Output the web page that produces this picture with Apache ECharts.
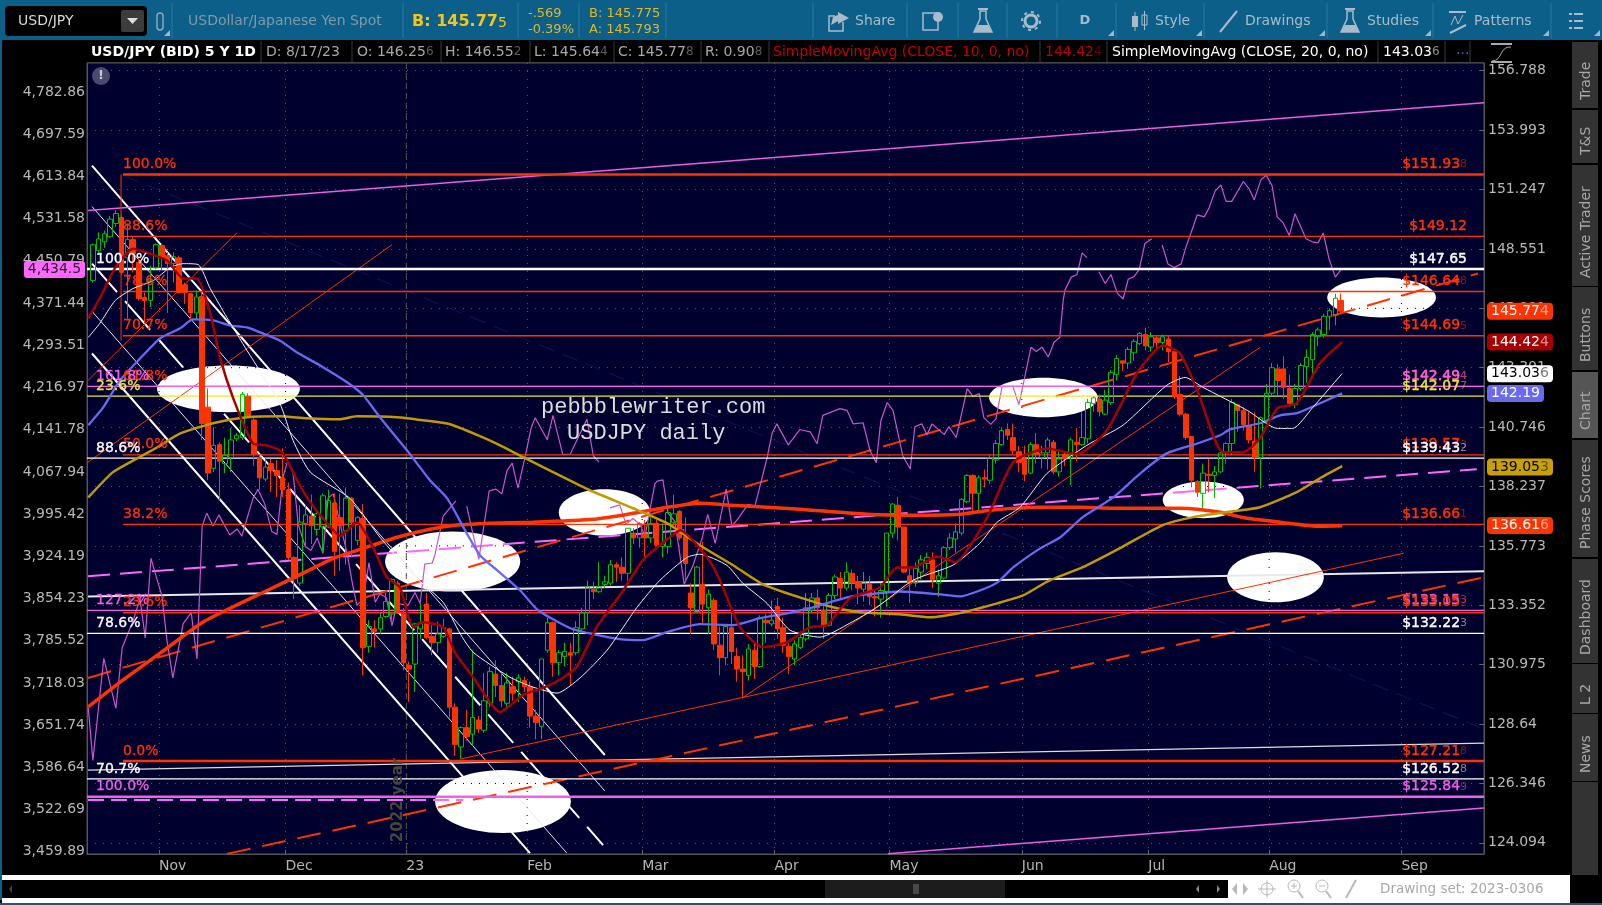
<!DOCTYPE html>
<html lang="en">

<head>
    <meta charset="UTF-8" />
    <title>USD/JPY daily</title>
    <script src="https://cdn.jsdelivr.net/npm/echarts@6/dist/echarts.min.js"></script>
    <style>
        html, body { margin: 0; padding: 0; background: #000; overflow: hidden; }
    </style>
</head>

<body>
    <div id="main" style="width: 1602px; height: 905px"></div>
    <script type="text/javascript">
        // ---------- axes ----------
        const monthTicks = [0, 22, 43, 64, 84, 107, 127, 150, 172, 193, 216];
        const monthLabels = ["Nov", "Dec", "23", "Feb", "Mar", "Apr", "May", "Jun", "Jul", "Aug", "Sep"];
        const priceTicks = [156.788, 153.993, 151.247, 148.551, 145.901, 143.301, 140.746, 138.237, 135.773, 133.352, 130.975, 128.64, 126.346, 124.094];
        const spxTicks = [4782.86, 4697.59, 4613.84, 4531.58, 4450.79, 4371.44, 4293.51, 4216.97, 4141.78, 4067.94, 3995.42, 3924.19, 3854.23, 3785.52, 3718.03, 3651.74, 3586.64, 3522.69, 3459.89];

        // ---------- daily bars, open, close, low, high ----------
        const firstBar = -12;
        const candles = [
            [147.14, 148.74, 147.05, 148.8], [148.47, 149.0, 148.3, 149.3], [148.87, 149.23, 148.6, 149.37], [149.1, 149.9, 149.05, 150.05],
            [149.7, 150.15, 149.55, 150.3], [149.97, 147.5, 147.4, 150.1], [148.15, 148.97, 145.45, 149.7], [148.97, 148.33, 147.5, 149.07],
            [147.95, 146.33, 146.25, 148.15], [146.38, 146.25, 145.25, 146.6], [146.25, 147.12, 145.95, 147.8], [147.7, 148.74, 147.65, 148.8],
            [148.7, 148.15, 147.6, 148.8], [148.25, 147.9, 145.7, 148.4], [147.9, 148.2, 147.05, 148.4], [148.15, 146.6, 146.55, 148.25],
            [146.95, 146.6, 146.1, 147.05], [146.55, 145.7, 145.3, 146.6], [145.7, 146.4, 145.4, 146.7], [146.42, 140.9, 140.2, 146.65],
            [141.6, 138.8, 138.5, 142.4], [139.0, 139.97, 138.85, 140.75], [140.0, 139.3, 137.66, 140.1], [139.2, 139.55, 138.8, 140.3],
            [139.45, 140.2, 138.85, 140.7], [140.25, 140.4, 140.15, 140.5], [140.3, 142.15, 140.2, 142.25], [142.07, 141.2, 141.15, 142.2],
            [141.05, 139.6, 139.1, 141.15], [139.45, 138.6, 138.1, 139.55], [138.55, 139.05, 138.45, 139.45], [139.2, 138.9, 138.0, 139.4],
            [138.9, 138.7, 137.8, 139.35], [138.6, 138.1, 137.8, 139.85], [138.1, 135.3, 135.2, 138.4], [135.3, 134.45, 133.6, 135.35],
            [134.25, 136.75, 134.15, 137.45], [136.7, 137.05, 135.7, 137.45], [137.0, 136.6, 135.85, 137.9], [136.45, 137.1, 136.2, 137.25],
            [136.55, 137.85, 135.5, 137.95], [136.55, 137.65, 136.5, 138.1], [137.55, 135.55, 134.55, 137.95], [136.95, 136.6, 134.75, 137.95],
            [136.4, 137.75, 135.0, 138.2], [137.75, 136.75, 135.3, 137.8], [136.0, 136.95, 135.8, 137.0], [136.9, 131.65, 130.55, 137.5],
            [131.7, 132.5, 131.45, 132.75], [132.4, 132.3, 131.65, 132.75], [132.4, 132.85, 132.2, 133.05], [132.9, 133.5, 132.85, 133.85],
            [133.0, 134.4, 132.55, 134.45], [134.25, 133.05, 133.0, 134.35], [133.0, 131.05, 130.75, 133.25], [130.95, 130.8, 129.5, 131.1],
            [131.0, 132.6, 129.9, 132.65], [132.4, 132.65, 132.0, 133.45], [133.4, 132.05, 132.0, 133.85], [132.1, 131.85, 131.35, 132.55],
            [131.85, 132.2, 131.45, 132.7], [132.1, 132.45, 132.05, 132.8], [132.4, 129.3, 128.9, 132.45], [129.3, 127.85, 127.4, 129.45],
            [127.75, 128.5, 127.3, 128.55], [128.5, 128.15, 128.0, 129.2], [128.25, 128.9, 127.8, 131.55], [128.8, 128.45, 128.3, 128.95],
            [128.4, 129.55, 128.3, 130.65], [129.45, 130.7, 129.3, 130.9], [130.6, 130.15, 129.7, 131.15], [130.15, 129.55, 129.3, 130.7],
            [129.45, 130.25, 129.3, 130.65], [130.1, 129.85, 129.55, 130.5], [130.3, 130.45, 129.5, 130.6], [130.35, 130.1, 129.9, 130.5],
            [130.1, 128.95, 128.5, 130.3], [128.95, 128.7, 128.05, 129.2], [128.55, 131.2, 128.05, 131.2], [131.55, 132.65, 131.45, 132.85],
            [132.65, 131.05, 130.5, 132.7], [131.05, 131.45, 130.55, 131.55], [131.3, 131.5, 130.9, 131.85], [131.45, 131.35, 130.15, 131.85],
            [131.45, 132.45, 131.35, 132.7], [132.4, 133.05, 132.3, 133.25], [133.05, 134.1, 132.55, 134.35], [134.0, 133.9, 133.6, 134.3],
            [133.9, 134.1, 133.85, 135.1], [134.2, 134.3, 134.05, 134.55], [134.25, 135.0, 134.15, 135.2], [135.0, 134.9, 134.3, 135.1],
            [134.9, 134.65, 134.35, 135.3], [134.65, 136.5, 134.35, 136.5], [136.3, 136.1, 135.85, 136.5], [136.1, 136.7, 135.7, 136.75],
            [136.25, 136.1, 135.3, 136.85], [136.1, 136.7, 135.9, 136.95], [136.7, 135.8, 135.75, 136.85], [135.75, 135.85, 135.3, 136.7],
            [135.75, 137.15, 135.45, 137.2], [136.75, 137.1, 136.6, 137.9], [137.2, 136.1, 136.0, 137.25], [136.15, 135.05, 134.25, 136.95],
            [133.85, 133.25, 132.2, 134.25], [133.1, 134.9, 133.05, 134.95], [134.2, 133.4, 132.6, 135.95], [133.25, 133.8, 132.2, 134.0],
            [133.55, 131.8, 131.55, 133.65], [131.75, 131.25, 130.55, 132.5], [131.25, 132.5, 130.95, 132.6], [132.45, 131.5, 131.0, 133.05],
            [131.3, 130.8, 130.3, 131.65], [130.8, 130.7, 129.65, 131.35], [130.55, 131.6, 130.35, 131.8], [131.55, 130.9, 130.4, 131.85],
            [130.9, 132.85, 130.85, 132.95], [132.75, 132.65, 131.85, 133.0], [132.6, 132.75, 132.5, 133.55], [133.3, 132.4, 132.0, 133.65],
            [132.45, 131.75, 131.45, 132.85], [131.7, 131.3, 130.6, 131.85], [131.2, 131.8, 130.95, 131.95], [131.65, 132.05, 131.6, 132.3],
            [132.0, 133.25, 131.9, 133.85], [133.15, 133.65, 133.05, 133.85], [133.65, 133.25, 132.75, 134.0], [133.15, 132.5, 132.0, 133.35],
            [132.55, 133.75, 132.5, 133.85], [133.75, 134.5, 133.6, 134.6], [134.45, 134.05, 133.6, 134.7], [134.05, 134.7, 133.95, 135.1],
            [134.65, 134.25, 133.95, 134.8], [134.3, 134.05, 133.4, 134.55], [134.0, 134.3, 133.5, 134.7], [134.2, 133.7, 133.35, 134.55],
            [133.7, 133.65, 132.9, 133.95], [133.6, 133.95, 132.85, 134.25], [133.9, 136.3, 133.3, 136.3], [136.3, 137.5, 136.1, 137.55],
            [137.45, 136.55, 136.0, 137.8], [136.55, 134.7, 134.65, 136.55], [134.55, 134.25, 133.45, 134.9], [134.25, 134.85, 134.1, 135.1],
            [134.7, 135.2, 134.4, 135.4], [135.05, 135.3, 134.8, 135.5], [135.2, 134.4, 134.05, 135.5], [134.25, 134.55, 133.7, 134.8],
            [134.45, 135.7, 134.4, 135.75], [135.7, 136.1, 135.6, 136.3], [136.05, 136.35, 135.5, 136.7], [136.3, 137.7, 136.2, 137.75],
            [137.6, 138.7, 137.55, 138.75], [138.7, 137.95, 137.2, 138.75], [137.95, 138.6, 137.15, 138.7], [138.6, 138.55, 138.2, 138.95],
            [138.5, 139.45, 138.35, 139.55], [139.35, 140.05, 139.2, 140.2], [140.0, 140.6, 139.95, 140.75], [140.65, 140.4, 140.2, 140.9],
            [140.3, 139.75, 139.6, 140.9], [139.7, 139.25, 138.85, 139.95], [139.4, 138.75, 138.45, 139.95], [138.8, 140.0, 138.75, 140.1],
            [140.0, 139.6, 139.2, 140.5], [139.45, 139.65, 139.0, 139.95], [139.65, 140.2, 138.95, 140.3], [140.1, 138.85, 138.75, 140.2],
            [138.85, 139.4, 138.65, 139.75], [139.6, 139.4, 139.1, 139.7], [139.45, 140.2, 138.3, 140.3], [140.1, 140.0, 139.3, 140.7],
            [140.0, 140.3, 139.95, 141.4], [140.25, 141.8, 140.05, 141.95], [141.75, 142.0, 141.4, 142.05], [141.95, 141.4, 141.2, 142.15],
            [141.3, 141.9, 141.25, 142.35], [141.8, 143.1, 141.7, 143.2], [143.0, 143.7, 142.75, 143.85], [143.6, 143.5, 143.15, 143.6],
            [143.5, 144.1, 143.25, 144.2], [143.95, 144.45, 143.6, 144.55], [144.35, 144.8, 144.3, 144.85], [144.75, 144.25, 144.05, 145.05],
            [144.2, 144.65, 144.0, 144.85], [144.6, 144.4, 144.05, 144.7], [144.4, 144.65, 144.05, 144.75], [144.55, 144.0, 143.55, 144.7],
            [144.0, 142.05, 141.95, 144.05], [142.15, 141.3, 141.2, 142.95], [141.3, 140.3, 140.2, 141.35], [140.35, 138.5, 138.2, 140.35],
            [138.45, 138.0, 137.8, 138.5], [137.95, 138.8, 137.25, 139.2], [138.75, 138.7, 138.0, 139.4], [138.7, 138.85, 137.75, 139.1],
            [138.85, 139.65, 138.8, 139.75], [139.65, 140.05, 139.2, 140.1], [140.05, 141.8, 139.55, 141.95], [141.7, 141.45, 140.55, 141.75],
            [141.45, 140.85, 140.6, 141.6], [140.8, 140.2, 140.05, 141.4], [140.15, 139.45, 138.85, 141.4], [139.45, 141.15, 138.15, 141.2],
            [141.0, 142.2, 140.9, 142.6], [142.2, 143.3, 142.1, 143.5], [143.25, 142.75, 142.1, 143.45], [143.25, 142.45, 141.95, 143.8],
            [142.4, 141.75, 141.6, 143.0], [141.7, 142.4, 141.55, 142.6], [142.4, 143.4, 142.3, 143.5], [143.35, 143.75, 142.65, 144.1],
            [143.65, 144.75, 142.85, 144.85], [144.65, 144.95, 144.25, 145.05], [144.75, 145.55, 144.6, 145.65], [145.55, 145.8, 144.95, 145.9],
            [145.6, 146.35, 145.15, 146.55], [146.256, 145.778, 145.644, 146.552],
        ];

        // ---------- moving averages, [bar, price] read at the bends ----------
        const sma10 = [[-12.3, 145.46], [-10.3, 146.34], [-7.6, 147.71], [-4.5, 148.56], [-2.1, 148.38], [1.4, 148.03], [4.2, 147.23], [6.6, 147.23], [8.9, 145.68], [10.6, 143.75], [12.9, 141.98], [16.3, 140.06], [18.8, 139.97], [21.4, 139.68], [24, 138.5], [25.7, 137.78], [28.5, 136.91], [31.5, 136.2], [34.4, 136.75], [37.2, 135.71], [39.6, 134.49], [41.9, 134.07], [44.2, 132.47], [45.9, 132.67], [49.4, 132.47], [51.5, 131.43], [54.6, 130.48], [59.3, 129.11], [63.3, 129.78], [67.5, 130.13], [70.2, 130.45], [72.7, 130.92], [76.1, 132.47], [80.7, 133.95], [84.1, 135.18], [88.8, 136.13], [90.6, 136.42], [95.3, 135.3], [97.5, 134.37], [101, 132.47], [105, 131.67], [109.2, 131.87], [113.2, 132.47], [116.1, 132.55], [120.1, 133.63], [125.3, 134.07], [128.3, 134.89], [131.1, 134.89], [135.3, 135.34], [138.4, 135.1], [144, 136.96], [148.5, 139.26], [154.4, 139.84], [159.6, 139.6], [164.8, 140.61], [170, 143.06], [174.5, 144.27], [177.5, 143.92], [180.5, 142.32], [185, 139.68], [188.5, 139.68], [191.4, 140.27], [194.4, 141.55], [197.8, 141.77], [201.8, 143.49], [205.7, 144.42]];
        const sma20 = [[-12.3, 144.62], [-10.3, 145.24], [-7.6, 146.25], [-4.5, 146.78], [-1, 147.13], [1.9, 147.71], [4.2, 147.89], [6.8, 147.85], [8.9, 146.78], [11.8, 145.5], [15.3, 144.05], [21, 141.76], [23.3, 140.18], [26.3, 138.84], [33.2, 137.74], [38.4, 136.13], [44.2, 134.57], [49.4, 133.47], [52.3, 132.23], [54.6, 131.47], [61, 130.48], [65, 130.09], [69.2, 129.85], [73.2, 130.45], [77.9, 131.55], [83.1, 133.27], [87.1, 134.37], [91.8, 135.3], [94, 135.43], [98.7, 134.98], [101.5, 134.24], [105.7, 133.43], [109.7, 132.35], [114.9, 132.07], [120.1, 132.63], [124.8, 133.27], [131.1, 134.37], [138, 134.98], [142.7, 135.88], [145.7, 136.75], [149.7, 137.37], [154.4, 138.79], [161.3, 139.97], [167.6, 140.83], [175.2, 142.54], [178.4, 142.88], [181.5, 142.45], [189.2, 141.46], [194.4, 140.69], [197.1, 140.69], [200.6, 141.59], [205.7, 143.05]];
        const sma50 = [[-12.3, 140.83], [-9.7, 141.59], [-6.8, 142.75], [-3.3, 143.7], [0.2, 144.58], [3.7, 145.02], [5.9, 145.41], [9.4, 145.37], [12.3, 145.15], [15.3, 145.06], [17.6, 144.84], [21, 144.49], [24, 143.96], [28, 143.4], [32.7, 142.67], [35.5, 142.11], [38.4, 141.17], [43.1, 139.76], [47.1, 138.5], [50.1, 137.74], [53.5, 136.29], [55.8, 135.39], [58.8, 134.77], [62.8, 133.95], [65.9, 133.15], [71.5, 132.43], [75.5, 132.19], [80.1, 131.99], [84.1, 131.95], [88.3, 132.27], [94, 132.59], [99.8, 132.55], [104.5, 132.83], [109.2, 133.03], [113.7, 133.27], [119.6, 133.67], [123.1, 133.79], [128.8, 133.91], [135.8, 133.79], [139.3, 133.71], [142.7, 133.95], [145.7, 134.27], [148.5, 134.89], [153.2, 135.67], [156.7, 136.13], [160.6, 136.96], [165.9, 137.78], [170.6, 138.79], [175.2, 139.63], [180.5, 140.05], [184.5, 140.4], [186.2, 140.65], [191.4, 140.91], [194.9, 141.25], [197.8, 141.34], [200.6, 141.63], [205.7, 142.19]];
        const sma100 = [[-12.3, 137.78], [-8, 138.84], [-3.8, 139.42], [-0.3, 139.89], [3.7, 140.48], [9.4, 140.91], [15.3, 141.17], [21, 141.21], [25.7, 141.12], [31.4, 141.08], [34.4, 141.21], [41.4, 141.17], [45.9, 141.04], [50.6, 140.87], [55.8, 140.36], [59.3, 139.97], [63.3, 139.47], [68.5, 138.84], [74.9, 138.08], [82.4, 137.33], [88.3, 136.71], [94, 135.8], [99.8, 134.98], [105, 134.2], [111.4, 133.67], [117.2, 133.27], [121.9, 133.07], [128.8, 132.99], [134, 132.87], [139.8, 133.07], [145.7, 133.43], [150.2, 133.75], [154.9, 134.37], [160.6, 134.9], [167, 135.67], [174.5, 136.63], [179.8, 136.96], [186.7, 137.2], [191.4, 137.37], [197.8, 138.0], [201.8, 138.58], [205.7, 139.09]];
        const sma200 = [[-12.3, 129.31], [-6.3, 130.36], [0.2, 131.43], [7.6, 132.67], [14.1, 133.43], [23.3, 134.45], [30.3, 135.26], [35.5, 135.67], [41.4, 136.13], [47.1, 136.46], [51.8, 136.63], [57.5, 136.71], [65, 136.75], [75.5, 136.87], [82.4, 137.12], [88.3, 137.37], [94, 137.54], [99.8, 137.45], [105.7, 137.37], [111.4, 137.29], [123.1, 137.08], [131.1, 137.04], [139.3, 137.08], [144.5, 137.25], [153.2, 137.37], [160.1, 137.37], [165.9, 137.33], [177.5, 137.33], [180.5, 137.29], [184.5, 137.16], [189.2, 136.91], [194.9, 136.75], [201.8, 136.58], [205.7, 136.6]];

        // ---------- index overlay on the left axis, null = break in the line ----------
        const spxLine = [[-12.3, 3679], [-11.5, 3597], [-9.6, 3757], [-7.5, 3678], [-6.4, 3774], [-4.5, 3818], [-3.3, 3854], [-2.4, 3790], [-1.4, 3921], [-0.3, 3884], [0.5, 3859], [1.4, 3785], [2.4, 3726], [4.2, 3813], [5.6, 3831], [6.6, 3756], [7.5, 3975], [8.3, 3997], [9.4, 3975], [10.4, 3994], [12.3, 3960], [13.6, 3970], [14.4, 3958], [16.3, 4021], [17.2, 4038], [18.4, 4012], [19.6, 3966], [20.5, 3961], [21.6, 4061], [22.4, 4087], [23.3, 4066], [24.2, 3978], [25.4, 3941], [26.4, 3934], [27.5, 3955], [28.5, 3929], [29.4, 4023], [30.3, 4030], [31.5, 3978], [32.7, 3929], [33.6, 3880], [34.4, 3843], [35.5, 3854], [36.5, 3913], [37.6, 3848], [38.4, 3862], [39.5, 3856], [40.5, 3810], [41.4, 3846], [43.3, 3843], [44.5, 3864], [45.4, 3846], [46.2, 3911], [47.5, 3913], [48, 3928], [49.4, 3992], [51.6, 4018], [52.5, null],
            [53.5, 4009], [54.6, 3961], [55.6, 3919], [57.4, 4035], [58.6, 4038], [59.6, 4030], [60.5, 4070], [61.4, 4083], [62.4, 4040], [63.6, 4092], [64.7, 4145], [65.4, 4163], [67.5, 4124], [68.5, 4167], [70.2, 4098], [71.5, 4099], [74.4, 4160], [75.5, 4096], [76.5, 4085], [77.5, null],
            [78.4, 4006], [80.1, 4011], [81.2, 3978], [82.4, 3988], [83.6, 3978], [84.5, 3958], [86.2, 4047], [86.6, 4052], [87.6, 4054], [88.5, 3997], [89.7, 3983], [91.3, 3878], [92.8, 3908], [94.4, 3954], [95.4, 3995], [96.7, 3946], [98.6, 4038], [99.6, 3975], [100.7, 3988], [102.4, 4012], [103.6, 4009], [105.7, 4092], [106.6, 4136], [107.4, 4152], [109.4, 4115], [111.4, 4142], [113.2, 4138], [114.4, 4117], [115.4, 4167], [118.4, 4179], [119.6, 4176], [120.7, 4152], [122.4, 4154], [123.6, 4105], [124.7, 4084], [125.5, 4158], [126.6, 4190], [127.6, 4176], [129.3, 4096], [130.6, 4073], [131.4, 4147], [132.6, 4152], [133.5, 4133], [134.4, 4152], [136.5, 4133], [137.3, 4147], [138.6, 4128], [140.5, 4215], [141.5, 4201], [142.6, 4206], [143.4, 4163], [144.6, 4151], [145.5, 4161], [146.6, 4220], [147.5, null],
            [148.5, 4217], [149.5, 4186], [151.6, 4290], [152.5, 4282], [153.5, 4290], [154.6, 4272], [155.6, 4299], [156.6, 4308], [157.2, 4377], [157.5, 4396], [158.6, 4420], [159.6, 4425], [160.5, 4466], [161.3, 4457], [162.4, null],
            [163.4, 4430], [164.5, 4408], [165.5, 4425], [166.6, 4390], [167.6, 4379], [168.5, 4416], [169.5, 4421], [170.4, 4434], [171.4, 4484], [172.6, 4493], [173.5, null],
            [174.4, 4481], [175.4, 4445], [176.5, 4438], [177.7, 4445], [178.5, 4476], [179.4, 4504], [180.5, 4539], [181.7, 4535], [182.5, 4551], [183.6, 4585], [184.6, 4597], [185.5, 4565], [186.5, 4565], [188.5, 4604], [189.5, 4590], [190.4, 4568], [191.6, 4608], [192.5, 4616], [193.5, 4596], [194.4, 4535], [195.4, 4524], [196.5, 4499], [197.5, 4541], [199.4, 4493], [200.5, 4487], [201.5, 4485], [202.4, 4504], [203.4, 4455], [204.5, 4420], [205.5, 4434.5]];

        // ---------- horizontal levels ----------
        const levelPrices = [151.938, 149.12, 147.65, 146.648, 144.695, 142.494, 142.49, 142.07, 139.57, 139.43, 136.661, 133.15, 133.05, 132.22, 127.21, 126.52, 125.84];
        const levelPercent = ["100.0%", "88.6%", "100.0%", "78.6%", "70.7%", "61.8%", "161.8%", "23.6%", "50.0%", "88.6%", "38.2%", "127.2%", "23.6%", "78.6%", "0.0%", "70.7%", "100.0%"];
        const levelDollar = ["$151.93", "$149.12", "$147.65", "$146.64", "$144.69", "$142.49", "$142.49", "$142.07", "$139.57", "$139.43", "$136.66", "$133.15", "$133.05", "$132.22", "$127.21", "$126.52", "$125.84"];
        const levelLastDigit = ["8", "", "", "8", "5", "4", "4", "7", "3", "2", "1", "3", "2", "3", "8", "8", "9"];
        const levelKind = ["orangeWide", "orange", "whiteWide", "orange", "orange", "orange", "pink", "yellow", "orange", "white", "orange", "pink", "orange", "white", "orangeWide", "white", "pinkWide"];

        // ---------- trend lines, bar and price at each end ----------
        const trendEnds = {
            channelTop: [-11.65, 152.35, 77.5, 127.44],
            channelThinUpper: [-11.65, 150.47, 77.5, 126.06],
            channelDashed: [-11.65, 147.89, 77.2, 124.01],
            channelThinLower: [-11.65, 145.77, 70.9, 123.71],
            channelBottom: [-11.65, 143.92, 64.5, 123.71],
            flatWhite: [-12.34, 133.71, 230.35, 134.73],
            flatWhiteLow: [-12.34, 126.86, 230.35, 127.9],
            pinkTop: [-12.34, 150.29, 230.35, 155.28],
            pinkMiddle: [-12.34, 134.53, 229.1, 138.96],
            pinkBottom: [126.7, 123.68, 230.35, 125.41],
            pinkFlat: [-12.34, 125.71, 52.9, 125.71],
            orangeDashedUpper: [-12.34, 130.45, 229.3, 147.45],
            orangeDashedLower: [11.8, 123.68, 230.35, 134.49],
            orangeLong: [52.3, 127.28, 216.4, 135.47],
            orangeRise: [101.4, 129.66, 191.4, 144.18],
            orangeLeftShort: [-12.34, 142.75, 13.6, 149.29],
            orangeLeftLong: [-12.34, 139.26, 40.5, 148.74],
            orangeStem: [-6.6, 151.94, -6.6, 144.49],
            navyDown: [-6.3, 151.9, 230.35, 128.44],
            yearLine: [43, 157.156, 43, 123.675],
        };

        // ---------- white ellipses, bar and price of the box around each ----------
        const ovalBoxes = [
            [-0.35, 24.5, 143.4, 141.38], [39.3, 62.8, 136.37, 133.91], [48, 71.6, 126.86, 124.46], [69.5, 85.4, 138.12, 136.2],
            [144.3, 163.2, 142.87, 141.17], [174.5, 188.6, 138.45, 136.91], [185.7, 202.5, 135.51, 133.47], [203.1, 222, 147.27, 145.5],
        ];

        // ---------- price tags on the right edge ----------
        const tagPrices = [145.774, 144.424, 143.036, 142.19, 139.053, 136.616];
        const tagTexts = ["145.77", "144.42", "143.03", "142.19", "139.05", "136.61"];
        const tagDigits = ["4", "4", "6", "", "3", "6"];
        const spxLast = 4434.5;

        const orange = "#ff3300";
        const pink = "#ff66ff";
        const labelFont = "DejaVu Sans";
        const xMin = -12.52, xMax = 230.35;
        const priceMin = 123.675, priceMax = 157.156;
        const spxMin = 3456.5, spxMax = 4842.4;
        const labelBar = 227.4;

        const kindStyle = {
            orange: { color: orange, width: 1.3, from: -6.26 },
            orangeWide: { color: orange, width: 2.5, from: -6.26 },
            white: { color: "#ffffff", width: 1.3, from: xMin },
            whiteWide: { color: "#ffffff", width: 2.5, from: xMin },
            pink: { color: "#f060e8", width: 1.2, from: xMin },
            pinkWide: { color: "#f060e8", width: 2.5, from: xMin },
            yellow: { color: "#e8e830", width: 1.2, from: xMin },
        };
        const trendStyle = {
            channelTop: ["#ffffff", 2, "solid"], channelThinUpper: ["#e8e8e8", 1, "solid"], channelDashed: ["#ffffff", 2, [38, 12]],
            channelThinLower: ["#e8e8e8", 1, "solid"], channelBottom: ["#ffffff", 2, "solid"], flatWhite: ["#e8e8e8", 2, "solid"],
            flatWhiteLow: ["#dddddd", 1.2, "solid"], pinkTop: ["#e860e0", 1.5, "solid"], pinkMiddle: [pink, 2, [22, 10]],
            pinkBottom: ["#e860e0", 1.5, "solid"], pinkFlat: [pink, 2, [16, 7]], orangeDashedUpper: [orange, 2, [24, 12]],
            orangeDashedLower: [orange, 2, [24, 12]], orangeLong: [orange, 1, "solid"], orangeRise: [orange, 1, "solid"],
            orangeLeftShort: [orange, 1, "solid"], orangeLeftLong: [orange, 1, "solid"], orangeStem: [orange, 1, "solid"],
            navyDown: ["#0f0f55", 1.2, [16, 9]], yearLine: ["#55554a", 1, [6, 4]],
        };

        function lineSeries(name, points, color, width, extra) {
            return Object.assign({
                name: name, type: "line", data: points, symbol: "none", silent: true, z: 3,
                connectNulls: false, lineStyle: { color: color, width: width },
            }, extra || {});
        }

        let series = [];

        // ovals go first, the marks lie on top of them
        series.push({
            type: "custom", silent: true, z: 1, data: ovalBoxes, encode: { x: [0, 1], y: [2, 3] },
            renderItem: function (params, api) {
                let a = api.coord([api.value(0), api.value(2)]);
                let b = api.coord([api.value(1), api.value(3)]);
                let shape = { cx: (a[0] + b[0]) / 2, cy: (a[1] + b[1]) / 2, rx: (b[0] - a[0]) / 2, ry: (b[1] - a[1]) / 2 };
                // the grid dots show black across the white
                let dots = [];
                monthTicks.forEach(function (t) {
                    let p = api.coord([t, priceMax]), q = api.coord([t, priceMin]);
                    dots.push({ type: "line", shape: { x1: p[0], y1: p[1], x2: q[0], y2: q[1] }, style: { stroke: "#000", lineWidth: 1, lineDash: [1, 7] } });
                });
                priceTicks.forEach(function (t) {
                    let p = api.coord([xMin, t]), q = api.coord([xMax, t]);
                    dots.push({ type: "line", shape: { x1: p[0], y1: p[1], x2: q[0], y2: q[1] }, style: { stroke: "#000", lineWidth: 1, lineDash: [1, 7] } });
                });
                return {
                    type: "group", children: [
                        { type: "ellipse", shape: shape, style: { fill: "#ffffff" } },
                        { type: "group", clipPath: { type: "ellipse", shape: shape }, children: dots },
                    ],
                };
            },
        });

        Object.keys(trendEnds).forEach(function (name) {
            let e = trendEnds[name], s = trendStyle[name];
            series.push(lineSeries(name, [[e[0], e[1]], [e[2], e[3]]], s[0], s[1], {
                z: name === "yearLine" || name === "navyDown" ? 2 : 3,
                lineStyle: { color: s[0], width: s[1], type: s[2] },
            }));
        });

        levelPrices.forEach(function (p, i) {
            let st = kindStyle[levelKind[i]];
            series.push(lineSeries("level" + i, [[st.from, p], [xMax, p]], st.color, st.width, { z: 4 }));
        });

        series.push(lineSeries("SPX", spxLine, "#cc55cc", 1.2, { yAxisIndex: 1, z: 3 }));

        series.push({
            name: "USD/JPY", type: "candlestick", silent: true, z: 5, barWidth: 5,
            data: candles.map(function (c, i) { return [firstBar + i + 0.5, c[0], c[1], c[2], c[3]]; }),
            itemStyle: { color: "transparent", color0: orange, borderColor: "#00c000", borderColor0: orange, borderWidth: 1 },
        });

        series.push(lineSeries("SMA200", sma200, orange, 3.5, { z: 6, smooth: 0.2 }));
        series.push(lineSeries("SMA100", sma100, "#c09a00", 2.5, { z: 6, smooth: 0.2 }));
        series.push(lineSeries("SMA50", sma50, "#6a6af0", 2.3, { z: 6, smooth: 0.2 }));
        series.push(lineSeries("SMA20", sma20, "#f0f0f0", 1, { z: 6, smooth: 0.2 }));
        series.push(lineSeries("SMA10", sma10, "#a80000", 2.5, { z: 6, smooth: 0.2 }));

        // percent and dollar texts along the levels
        series.push({
            type: "custom", silent: true, z: 7, encode: { x: 0, y: 1 },
            data: levelPrices.map(function (p, i) { return [kindStyle[levelKind[i]].from === xMin ? -10.95 : -6.26, p]; }),
            renderItem: function (params, api) {
                let pt = api.coord([api.value(0), api.value(1)]);
                let col = kindStyle[levelKind[params.dataIndex]].color;
                return {
                    type: "text", x: pt[0], y: pt[1] - 3,
                    style: { text: levelPercent[params.dataIndex], fill: col, stroke: col, lineWidth: 0.3, font: "14px " + labelFont, align: "left", verticalAlign: "bottom" },
                };
            },
        });
        series.push({
            type: "custom", silent: true, z: 7, encode: { x: 0, y: 1 },
            data: levelPrices.map(function (p) { return [labelBar, p]; }),
            renderItem: function (params, api) {
                let i = params.dataIndex;
                let pt = api.coord([api.value(0), api.value(1)]);
                let col = kindStyle[levelKind[i]].color;
                return {
                    type: "text", x: pt[0], y: pt[1] - 3,
                    style: {
                        text: "{a|" + levelDollar[i] + "}" + (levelLastDigit[i] ? "{b|" + levelLastDigit[i] + "}" : ""),
                        align: "right", verticalAlign: "bottom",
                        rich: {
                            a: { fill: col, stroke: col, lineWidth: 0.4, font: "14px " + labelFont },
                            b: { fill: col, opacity: 0.5, font: "11px " + labelFont },
                        },
                    },
                };
            },
        });

        // rounded tags outside the right edge
        const tagFill = ["#ff3300", "#a80000", "#ffffff", "#6a6af0", "#c8a000", "#ff3300"];
        const tagInk = ["#ffffff", "#ffffff", "#000000", "#ffffff", "#000000", "#ffffff"];
        const tagWide = [66, 66, 66, 57, 66, 66];
        series.push({
            type: "custom", silent: true, z: 9, encode: { x: 0, y: 1 },
            data: tagPrices.map(function (p) { return [xMax, p]; }),
            renderItem: function (params, api) {
                let i = params.dataIndex;
                let pt = api.coord([api.value(0), api.value(1)]);
                return {
                    type: "group", children: [
                        { type: "rect", shape: { x: pt[0] + 3, y: pt[1] - 8.5, width: tagWide[i], height: 17, r: 4 }, style: { fill: tagFill[i] } },
                        {
                            type: "text", x: pt[0] + 7, y: pt[1],
                            style: {
                                text: "{a|" + tagTexts[i] + "}" + (tagDigits[i] ? "{b|" + tagDigits[i] + "}" : ""),
                                align: "left", verticalAlign: "middle",
                                rich: {
                                    a: { fill: tagInk[i], font: "14px " + labelFont },
                                    b: { fill: tagInk[i], opacity: 0.55, font: "14px " + labelFont },
                                },
                            },
                        },
                    ],
                };
            },
        });
        series.push({
            type: "custom", silent: true, z: 9, yAxisIndex: 1, encode: { x: 0, y: 1 },
            data: [[xMin, spxLast]],
            renderItem: function (params, api) {
                let pt = api.coord([api.value(0), api.value(1)]);
                return {
                    type: "group", children: [
                        { type: "rect", shape: { x: pt[0] - 63, y: pt[1] - 8.5, width: 61, height: 17, r: 3 }, style: { fill: pink } },
                        { type: "text", x: pt[0] - 32.5, y: pt[1], style: { text: "4,434.5", fill: "#222", font: "14px " + labelFont, align: "center", verticalAlign: "middle" } },
                    ],
                };
            },
        });

        // ---------- window around the plot, drawn as graphic elements ----------
        const chrome = [];
        function box(x, y, w, h, fill, r) {
            chrome.push({ type: "rect", shape: { x: x, y: y, width: w, height: h, r: r || 0 }, style: { fill: fill } });
        }
        function say(x, y, text, fill, font, align) {
            chrome.push({ type: "text", x: x, y: y, style: { text: text, fill: fill, font: font || "14px " + labelFont, align: align || "left", verticalAlign: "middle" } });
        }
        function stroke(x1, y1, x2, y2, col, w) {
            chrome.push({ type: "line", shape: { x1: x1, y1: y1, x2: x2, y2: y2 }, style: { stroke: col, lineWidth: w || 1 } });
        }
        function corner(x, y) {
            chrome.push({ type: "polygon", shape: { points: [[x, y], [x - 6, y], [x, y - 6]] }, style: { fill: "#9fb8c6" } });
        }
        function flask(x, y, col) {
            chrome.push({ type: "polygon", shape: { points: [[x - 3, y - 10], [x + 3, y - 10], [x + 3, y - 2], [x + 9, y + 11], [x - 9, y + 11], [x - 3, y - 2]] }, style: { fill: "none", stroke: col, lineWidth: 1.5 } });
            chrome.push({ type: "polygon", shape: { points: [[x - 5, y + 4], [x + 5, y + 4], [x + 9, y + 11], [x - 9, y + 11]] }, style: { fill: col } });
            stroke(x - 5, y - 12, x + 5, y - 12, col, 2);
        }

        const bar = "#0b5f88";
        const toolInk = "#a9bcc8";
        box(0, 0, 1602, 40, bar);
        box(0, 40, 2, 860, bar);
        box(0, 903, 1602, 2, bar);
        box(5, 6, 142, 30, "#000", 4);
        say(18, 21, "USD/JPY", "#d8d8d8");
        box(121, 10, 23, 22, "#3c3c3c", 2);
        chrome.push({ type: "polygon", shape: { points: [[127, 18], [138, 18], [132.5, 24]] }, style: { fill: "#ddd" } });
        chrome.push({ type: "rect", shape: { x: 157, y: 13, width: 6, height: 17, r: 3 }, style: { fill: "none", stroke: "#8fa6b4", lineWidth: 1.5 } });
        corner(170, 36);
        [172, 403, 518, 579, 666, 813, 907, 958, 1007, 1057, 1116, 1204, 1327, 1433, 1551].forEach(function (x) { stroke(x, 3, x, 38, "#2a7aa2", 1); });
        say(188, 21, "USDollar/Japanese Yen Spot", "#7f9aa9");
        say(412, 22, "B: 145.77", "#f5c518", "bold 16px " + labelFont);
        say(498, 23, "5", "#f5c518", "14px " + labelFont);
        say(528, 14, "-.569", "#e4b820", "13px " + labelFont);
        say(528, 30, "-0.39%", "#e4b820", "13px " + labelFont);
        say(589, 14, "B: 145.775", "#e4b820", "13px " + labelFont);
        say(589, 30, "A: 145.793", "#e4b820", "13px " + labelFont);

        chrome.push({ type: "polyline", shape: { points: [[843, 22], [843, 31], [829, 31], [829, 16], [835, 16]] }, style: { fill: "none", stroke: toolInk, lineWidth: 1.5 } });
        chrome.push({ type: "polygon", shape: { points: [[838, 12], [849, 18], [838, 24], [838, 21], [831, 25], [833, 17], [838, 15]] }, style: { fill: toolInk } });
        say(855, 21, "Share", toolInk);
        chrome.push({ type: "rect", shape: { x: 923, y: 13, width: 15, height: 17 }, style: { fill: "none", stroke: toolInk, lineWidth: 1.5 } });
        chrome.push({ type: "circle", shape: { cx: 938, cy: 17, r: 5 }, style: { fill: toolInk } });
        flask(983, 21, toolInk);
        chrome.push({ type: "circle", shape: { cx: 1031, cy: 21, r: 6 }, style: { fill: "none", stroke: toolInk, lineWidth: 3 } });
        chrome.push({ type: "circle", shape: { cx: 1031, cy: 21, r: 9 }, style: { fill: "none", stroke: toolInk, lineWidth: 2, lineDash: [3, 4] } });
        say(1085, 21, "D", toolInk, "bold 13px " + labelFont, "center");
        corner(1114, 36);
        box(1132, 16, 6, 11, toolInk);
        stroke(1135, 12, 1135, 31, toolInk, 1);
        chrome.push({ type: "rect", shape: { x: 1142, y: 15, width: 5, height: 10 }, style: { fill: "none", stroke: toolInk } });
        stroke(1144.5, 11, 1144.5, 30, toolInk, 1);
        say(1155, 21, "Style", toolInk);
        corner(1202, 36);
        stroke(1220, 32, 1237, 11, toolInk, 2);
        say(1245, 21, "Drawings", toolInk);
        corner(1325, 36);
        flask(1350, 21, toolInk);
        say(1367, 21, "Studies", toolInk);
        corner(1431, 36);
        stroke(1449, 12, 1466, 12, toolInk, 2);
        chrome.push({ type: "polyline", shape: { points: [[1451, 25], [1455, 16], [1458, 24], [1463, 15]] }, style: { fill: "none", stroke: toolInk, lineWidth: 1 } });
        stroke(1450, 33, 1466, 25, toolInk, 2);
        say(1474, 21, "Patterns", toolInk);
        corner(1549, 36);
        [14, 21, 28].forEach(function (y) { box(1569, y - 1, 3, 2, toolInk); box(1574, y - 1, 9, 2, toolInk); });
        corner(1600, 36);

        // study strip above the plot
        box(88, 40, 1382, 23, "#000");
        stroke(88, 62.5, 1484, 62.5, "#444");
        say(91, 52, "USD/JPY (BID) 5 Y 1D", "#ffffff", "bold 14px " + labelFont);
        [261, 352, 441, 530, 614, 701, 769, 1040, 1107, 1378, 1445, 1470].forEach(function (x) { stroke(x, 41, x, 62, "#3a3a3a"); });
        function stripText(x, text, digit, col) {
            chrome.push({
                type: "text", x: x, y: 52,
                style: {
                    text: "{a|" + text + "}{b|" + digit + "}", verticalAlign: "middle",
                    rich: { a: { fill: col, font: "14px " + labelFont }, b: { fill: col, opacity: 0.55, font: "12px " + labelFont } },
                },
            });
        }
        say(266, 52, "D: 8/17/23", "#a8a8a8");
        stripText(357, "O: 146.25", "6", "#a8a8a8");
        stripText(445, "H: 146.55", "2", "#a8a8a8");
        stripText(534, "L: 145.64", "4", "#a8a8a8");
        stripText(618, "C: 145.77", "8", "#a8a8a8");
        stripText(705, "R: 0.90", "8", "#a8a8a8");
        say(773, 52, "SimpleMovingAvg (CLOSE, 10, 0, no)", "#c00000");
        stripText(1045, "144.42", "4", "#c00000");
        say(1112, 52, "SimpleMovingAvg (CLOSE, 20, 0, no)", "#ffffff");
        stripText(1383, "143.03", "6", "#ffffff");
        say(1456, 50, "...", "#4a5cff");

        // s-curve button above the right axis
        stroke(1491, 44, 1512, 44, "#aaa", 2);
        stroke(1491, 62, 1512, 62, "#aaa", 2);
        chrome.push({ type: "bezierCurve", shape: { x1: 1492, y1: 61, cpx1: 1503, cpy1: 61, cpx2: 1499, cpy2: 46, x2: 1511, y2: 47 }, style: { fill: "none", stroke: "#aaa", lineWidth: 1 } });

        // notice badge and watermark
        chrome.push({ type: "circle", shape: { cx: 101, cy: 76, r: 9 }, style: { fill: "#4a4a6e" } });
        say(101, 76, "!", "#c8c8d8", "bold 13px " + labelFont, "center");
        say(541, 407, "pebbblewriter.com", "#dddddd", "22px Liberation Mono");
        say(567, 433, "USDJPY daily", "#dddddd", "22px Liberation Mono");
        chrome.push({ type: "text", x: 398, y: 800, rotation: Math.PI / 2, style: { text: "2022 year", fill: "#46463c", font: "bold 15px " + labelFont, align: "center", verticalAlign: "middle" } });

        // tabs down the right side
        const tabRows = [["Trade", 42, 108], ["T&S", 110, 163], ["Active Trader", 165, 286], ["Buttons", 287, 370], ["Chart", 372, 438], ["Phase Scores", 440, 557], ["Dashboard", 559, 663], ["L 2", 664, 713], ["News", 714, 781], ["", 782, 875]];
        tabRows.forEach(function (t) {
            box(1572, t[1], 26, t[2] - t[1], t[0] === "Chart" ? "#555555" : "#333333");
            if (t[0]) {
                chrome.push({ type: "text", x: 1586, y: t[2] - 8, rotation: Math.PI / 2, style: { text: t[0], fill: "#a8a8a8", font: "14px " + labelFont, align: "left", verticalAlign: "middle" } });
            }
        });

        // scroll bar at the bottom
        box(2, 875, 1568, 28, "#ffffff");
        box(1570, 875, 32, 28, "#000");
        box(2, 880, 1226, 18, "#000");
        box(825, 880, 180, 18, "#1c1c1c");
        [914, 916, 918].forEach(function (x) { stroke(x, 884, x, 894, "#777"); });
        chrome.push({ type: "polygon", shape: { points: [[12, 885], [9, 889], [12, 893]] }, style: { fill: "#444" } });
        chrome.push({ type: "polygon", shape: { points: [[1199, 885], [1196, 889], [1199, 893]] }, style: { fill: "#888" } });
        chrome.push({ type: "polygon", shape: { points: [[1217, 885], [1220, 889], [1217, 893]] }, style: { fill: "#888" } });
        const iconInk = "#b8b8b8";
        chrome.push({ type: "polygon", shape: { points: [[1237, 883], [1232, 889], [1237, 895]] }, style: { fill: iconInk } });
        chrome.push({ type: "polygon", shape: { points: [[1243, 883], [1248, 889], [1243, 895]] }, style: { fill: iconInk } });
        chrome.push({ type: "circle", shape: { cx: 1267, cy: 889, r: 6 }, style: { fill: "none", stroke: iconInk } });
        stroke(1267, 880, 1267, 898, iconInk);
        stroke(1258, 889, 1276, 889, iconInk);
        [1294, 1322].forEach(function (x, i) {
            chrome.push({ type: "circle", shape: { cx: x, cy: 886, r: 6 }, style: { fill: "none", stroke: iconInk } });
            stroke(x + 4, 891, x + 9, 898, iconInk, 2);
            stroke(x - 3, 886, x + 3, 886, iconInk);
            if (i === 0) { stroke(x, 883, x, 889, iconInk); }
        });
        stroke(1346, 898, 1356, 880, iconInk, 2);
        say(1380, 889, "Drawing set: 2023-0306", "#a8a8a8", "13.5px " + labelFont);

        let options = {
            backgroundColor: "#000000",
            animation: false,
            textStyle: { fontFamily: labelFont },
            graphic: { elements: chrome.map(function (el) { el.z = 20; el.silent = true; return el; }) },
            grid: { left: 87, right: 118, top: 63, bottom: 51, show: true, backgroundColor: "#00002e", borderColor: "#555555", borderWidth: 1 },
            xAxis: {
                type: "value", min: xMin, max: xMax, axisLine: { onZero: false, lineStyle: { color: "#555555" } },
                axisTick: { customValues: monthTicks, inside: true, length: 4, lineStyle: { color: "#666666" } },
                axisLabel: {
                    customValues: monthTicks, color: "#b5b5b5", fontSize: 14, fontFamily: labelFont, align: "left", margin: 5,
                    formatter: function (v) { return monthLabels[monthTicks.indexOf(v)]; },
                },
                splitLine: { show: true, lineStyle: { color: "#55556a", type: [1, 7] } },
            },
            yAxis: [
                {
                    type: "log", logBase: Math.E, position: "right", min: priceMin, max: priceMax,
                    axisLine: { show: true, onZero: false, lineStyle: { color: "#555555" } },
                    axisTick: { show: true, customValues: priceTicks, inside: true, length: 4, lineStyle: { color: "#666666" } },
                    axisLabel: {
                        customValues: priceTicks, color: "#b8b8b8", fontSize: 14, fontFamily: labelFont, margin: 4,
                        formatter: function (v) { return String(Math.round(v * 1000) / 1000); },
                    },
                    splitLine: { show: true, lineStyle: { color: "#55556a", type: [1, 7] } },
                },
                {
                    type: "log", logBase: Math.E, position: "left", min: spxMin, max: spxMax,
                    axisLine: { show: true, onZero: false, lineStyle: { color: "#555555" } },
                    axisTick: { show: false },
                    axisLabel: {
                        customValues: spxTicks, color: "#b8b8b8", fontSize: 14, fontFamily: labelFont, margin: 2,
                        formatter: function (v) { return v.toLocaleString("en-US", { minimumFractionDigits: 2, maximumFractionDigits: 2 }); },
                    },
                    splitLine: { show: false },
                },
            ],
            series: series,
        };

        let myChart = echarts.init(document.getElementById("main"));
        myChart.setOption(options);
    </script>
</body>

</html>
